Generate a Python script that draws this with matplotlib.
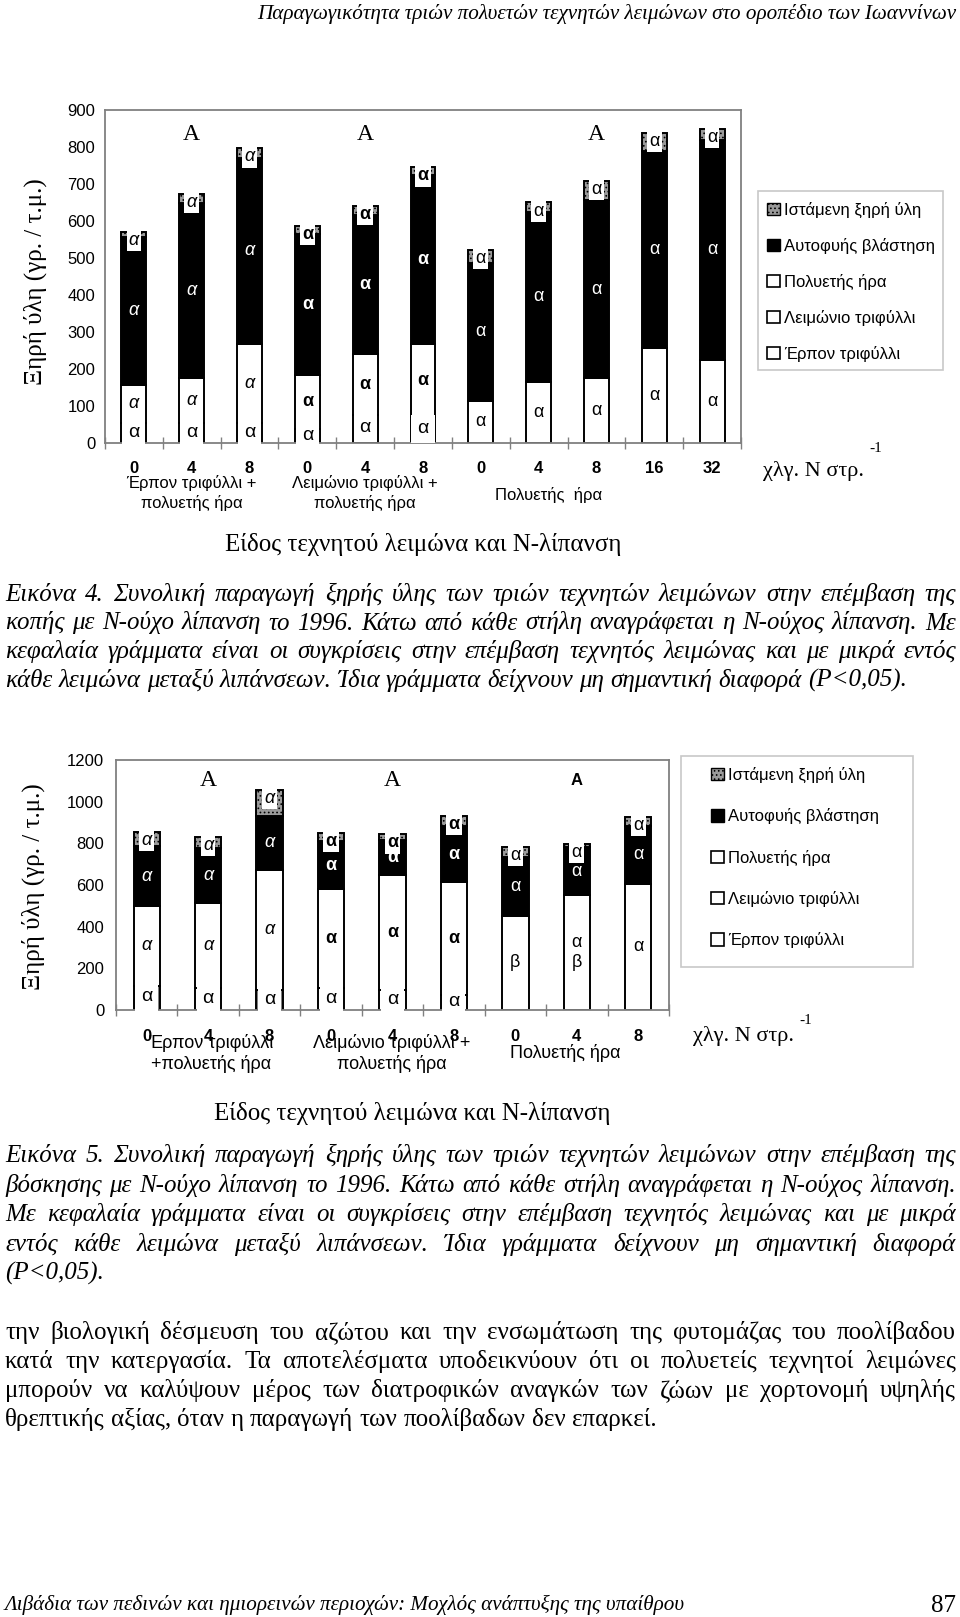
import numpy as np
import matplotlib.pyplot as plt
import matplotlib.transforms as mtransforms
from matplotlib.patches import Patch, Rectangle

plt.rcParams['font.family'] = ['Liberation Sans', 'DejaVu Sans']
plt.rcParams['hatch.linewidth'] = 0.7
SERIF = ['Liberation Serif', 'DejaVu Serif']

W, H = 960, 1617

# ---------------- data: figure 4 (cutting) ----------------
rates_4 = ['0', '4', '8', '0', '4', '8', '0', '4', '8', '16', '32']
group_of_4 = [0, 0, 0, 1, 1, 1, 2, 2, 2, 2, 2]
clover_4 = [54, 54, 54, 38, 75, 69, 0, 0, 0, 0, 0]
ryegrass_4 = [103, 123, 214, 146, 166, 199, 114, 166, 175, 258, 225]
weeds_4 = [400, 471, 502, 381, 375, 456, 372, 459, 482, 530, 594]
standing_4 = [13, 26, 26, 21, 24, 21, 35, 25, 52, 51, 29]
rye_letters_4 = ['α'] * 11
groups_4 = ['Έρπον τριφύλλι +\nπολυετής ήρα', 'Λειμώνιο τριφύλλι +\nπολυετής ήρα', 'Πολυετής  ήρα']
caps_4 = ['Α', 'Α', 'Α']

# ---------------- data: figure 5 (grazing) ----------------
rates_5 = ['0', '4', '8', '0', '4', '8', '0', '4', '8']
group_of_5 = [0, 0, 0, 1, 1, 1, 2, 2, 2]
clover_5 = [117, 104, 96, 104, 96, 72, 0, 0, 0]
ryegrass_5 = [382, 410, 578, 477, 554, 541, 453, 552, 605]
weeds_5 = [288, 265, 256, 229, 168, 270, 283, 229, 280]
standing_5 = [66, 50, 126, 41, 25, 50, 46, 17, 41]
rye_letters_5 = ['α', 'α', 'α', 'α', 'α', 'α', 'β', 'α\nβ', 'α']
groups_5 = ['Έρπον τριφύλλι\n+πολυετής ήρα', 'Λειμώνιο τριφύλλι +\nπολυετής ήρα', 'Πολυετής ήρα']
caps_5 = ['Α', 'Α', 'Α']

legend_labels = ['Ιστάμενη ξηρή ύλη', 'Αυτοφυής βλάστηση', 'Πολυετής ήρα',
                 'Λειμώνιο τριφύλλι', 'Έρπον τριφύλλι']

caption_4 = [
    'Εικόνα 4. Συνολική παραγωγή ξηρής ύλης των τριών τεχνητών λειμώνων στην επέμβαση της',
    'κοπής με Ν-ούχο λίπανση το 1996. Κάτω από κάθε στήλη αναγράφεται η Ν-ούχος λίπανση. Με',
    'κεφαλαία γράμματα είναι οι συγκρίσεις στην επέμβαση τεχνητός λειμώνας και με μικρά εντός',
    'κάθε λειμώνα μεταξύ λιπάνσεων. Ίδια γράμματα δείχνουν μη σημαντική διαφορά (P<0,05).',
]
caption_5 = [
    'Εικόνα 5. Συνολική παραγωγή ξηρής ύλης των τριών τεχνητών λειμώνων στην επέμβαση της',
    'βόσκησης με Ν-ούχο λίπανση το 1996. Κάτω από κάθε στήλη αναγράφεται η Ν-ούχος λίπανση.',
    'Με κεφαλαία γράμματα είναι οι συγκρίσεις στην επέμβαση τεχνητός λειμώνας και με μικρά',
    'εντός κάθε λειμώνα μεταξύ λιπάνσεων. Ίδια γράμματα δείχνουν μη σημαντική διαφορά',
    '(P<0,05).',
]
body = [
    'την βιολογική δέσμευση του αζώτου και την ενσωμάτωση της φυτομάζας του ποολίβαδου',
    'κατά την κατεργασία. Τα αποτελέσματα υποδεικνύουν ότι οι πολυετείς τεχνητοί λειμώνες',
    'μπορούν να καλύψουν μέρος των διατροφικών αναγκών των ζώων με χορτονομή υψηλής',
    'θρεπτικής αξίας, όταν η παραγωγή των ποολίβαδων δεν επαρκεί.',
]
header = 'Παραγωγικότητα τριών πολυετών τεχνητών λειμώνων στο οροπέδιο των Ιωαννίνων'
footer = 'Λιβάδια των πεδινών και ημιορεινών περιοχών: Μοχλός ανάπτυξης της υπαίθρου'
page_no = '87'

GRAY = '#9a9a9a'
# letter style per meadow group (the scan mixes italic / bold / plain)
LETTER_STYLE = [dict(style='italic'), dict(fontweight='bold'), dict()]


def px(x, y):
    return x / W, 1 - y / H


def stacked(ax, rates, group_of, clover, rye, weeds, standing, rye_letters,
            clover_fill, ymax, ystep):
    x = np.arange(len(rates))
    c, r, wd, s = (np.array(v, dtype=float) for v in (clover, rye, weeds, standing))
    kw = dict(width=0.43, edgecolor='black', linewidth=1.4)
    has_c = c > 0
    ax.bar(x[has_c], c[has_c], color=np.array(clover_fill)[has_c], **kw)
    ax.bar(x, r, bottom=c, color='white', **kw)
    ax.bar(x, wd, bottom=c + r, color='black', **kw)
    ax.bar(x, s, bottom=c + r + wd, color=GRAY, hatch='....', **kw)

    box = dict(boxstyle='square,pad=0.12', fc='white', ec='none')
    for i in x:
        st = LETTER_STYLE[group_of[i]]
        if c[i] > 0:
            ax.text(i, c[i] * 0.55, 'α', ha='center', va='center', fontsize=14,
                    bbox=dict(boxstyle='square,pad=0.3', fc='white', ec='none'), zorder=5)
        ax.text(i, c[i] + r[i] / 2, rye_letters[i], ha='center', va='center',
                fontsize=13, linespacing=1.3, zorder=5, **st)
        ax.text(i, c[i] + r[i] + wd[i] / 2, 'α', ha='center', va='center',
                fontsize=13, color='white', zorder=5, **st)
        ax.text(i, c[i] + r[i] + wd[i] + s[i], 'α', ha='center', va='top',
                fontsize=13, bbox=box, zorder=5, **st)

    ax.set_xlim(-0.5, len(rates) - 0.5)
    ax.set_ylim(0, ymax)
    ax.set_yticks(np.arange(0, ymax + 1, ystep))
    ax.set_xticks(x)
    ax.set_xticklabels(rates, fontweight='bold', fontsize=12)
    ax.set_xticks(np.arange(-0.5, len(rates)), minor=True)
    ax.tick_params(axis='x', which='major', length=0, pad=13)
    ax.tick_params(axis='x', which='minor', direction='inout', length=8,
                   color='#808080', width=1)
    ax.tick_params(axis='y', length=0, labelsize=12)
    for sp in ax.spines.values():
        sp.set_color('#808080')
        sp.set_linewidth(1.3)


def legend_box(fig, handles, x0, y0, x1, y1, marker_x, first_y, spacing):
    fig.add_artist(Rectangle(px(x0, y1), (x1 - x0) / W, (y1 - y0) / H,
                             transform=fig.transFigure, fc='white',
                             ec='#c8c8c8', lw=1.2))
    fig.legend(handles, legend_labels, loc='upper left',
               bbox_to_anchor=px(marker_x - 1, first_y - 10),
               bbox_transform=fig.transFigure, frameon=False, fontsize=12,
               handlelength=0.75, handleheight=0.75, handletextpad=0.3,
               labelspacing=spacing, borderpad=0, borderaxespad=0)


def unit_label(fig, x, y, raise_px):
    # "χλγ. Ν στρ." with a raised -1 right after it
    rend = fig.canvas.get_renderer()
    t = fig.text(*px(x, y), 'χλγ. Ν στρ.', fontsize=16, family=SERIF, va='baseline')
    right = t.get_window_extent(rend).x1
    fig.text((right + 5) / W, 1 - (y - raise_px) / H, '-1', fontsize=11,
             family=SERIF, va='baseline')


def put_lines(fig, lines, y0, dy, size, style='normal', left=5, right=956):
    rend = fig.canvas.get_renderer()
    space = size * 0.25 * 100 / 72
    for k, line in enumerate(lines):
        words = line.split(' ')
        texts = [fig.text(0, 0, w, fontsize=size, family=SERIF, style=style,
                          va='baseline') for w in words]
        widths = [t.get_window_extent(rend).width for t in texts]
        if k == len(lines) - 1 or len(words) < 2:
            gap = space
        else:
            gap = (right - left - sum(widths)) / (len(words) - 1)
        xx = left
        for t, w in zip(texts, widths):
            t.set_position(px(xx, y0 + k * dy))
            xx += w + gap


fig = plt.figure(figsize=(W / 100, H / 100), dpi=100)

handles = [Patch(fc=GRAY, ec='black', hatch='....', lw=1),
           Patch(fc='black', ec='black', lw=1),
           Patch(fc='white', ec='black', lw=1.2),
           Patch(fc='white', ec='black', lw=1.2),
           Patch(fc='white', ec='black', lw=1.2)]

# ---------------- figure 4 ----------------
ax1 = fig.add_axes([105 / W, 1 - 443 / H, 636 / W, 333 / H])
stacked(ax1, rates_4, group_of_4, clover_4, ryegrass_4, weeds_4, standing_4,
        rye_letters_4, ['white'] * 11, 900, 100)
ax1.tick_params(axis='y', pad=7)
for cap, gx in zip(caps_4, [1, 4, 8]):
    ax1.text(gx, 835, cap, ha='center', va='center', fontsize=17, family=SERIF)
tr1 = mtransforms.blended_transform_factory(ax1.transData, ax1.transAxes)
ax1.text(1, -0.095, groups_4[0], transform=tr1, ha='center', va='top', fontsize=12, linespacing=1.3)
ax1.text(4, -0.095, groups_4[1], transform=tr1, ha='center', va='top', fontsize=12, linespacing=1.3)
ax1.text(7.18, -0.157, groups_4[2], transform=tr1, ha='center', va='center', fontsize=12)
fig.text(*px(35, 282), 'Ξηρή ύλη (γρ. / τ.μ.)', rotation=90, ha='center', va='center',
         fontsize=18, family=SERIF)
fig.text(*px(423, 544), 'Είδος τεχνητού λειμώνα και Ν-λίπανση', ha='center', va='center',
         fontsize=18, family=SERIF)
unit_label(fig, 763, 476, 24)
legend_box(fig, handles, 758, 191, 943, 370, 768, 212, 1.2)

# ---------------- figure 5 ----------------
ax2 = fig.add_axes([116 / W, 1 - 1010 / H, 553 / W, 250 / H])
stacked(ax2, rates_5, group_of_5, clover_5, ryegrass_5, weeds_5, standing_5,
        rye_letters_5, ['#7f7f7f', 'white', '#7f7f7f', 'white', 'white', 'white',
                        'white', 'white', 'white'], 1200, 200)
ax2.tick_params(axis='y', pad=8.5)
ax2.tick_params(axis='x', which='major', pad=14)
ax2.text(1, 1104, caps_5[0], ha='center', va='center', fontsize=17, family=SERIF)
ax2.text(4, 1104, caps_5[1], ha='center', va='center', fontsize=17, family=SERIF)
ax2.text(7, 1104, caps_5[2], ha='center', va='center', fontsize=12, fontweight='bold')
tr2 = mtransforms.blended_transform_factory(ax2.transData, ax2.transAxes)
ax2.text(1.05, -0.095, groups_5[0], transform=tr2, ha='center', va='top', fontsize=13, linespacing=1.25)
ax2.text(3.99, -0.095, groups_5[1], transform=tr2, ha='center', va='top', fontsize=13, linespacing=1.25)
ax2.text(6.81, -0.172, groups_5[2], transform=tr2, ha='center', va='center', fontsize=13)
fig.text(*px(33, 887), 'Ξηρή ύλη (γρ. / τ.μ.)', rotation=90, ha='center', va='center',
         fontsize=18, family=SERIF)
fig.text(*px(412, 1113), 'Είδος τεχνητού λειμώνα και Ν-λίπανση', ha='center', va='center',
         fontsize=18, family=SERIF)
unit_label(fig, 693, 1041, 17)
legend_box(fig, handles, 681, 756, 913, 967, 712, 777, 1.52)

# ---------------- page text ----------------
fig.text(*px(956, 19), header, ha='right', va='baseline', fontsize=15.2,
         family=SERIF, style='italic')
put_lines(fig, caption_4, 601, 28.5, 18, style='italic')
put_lines(fig, caption_5, 1162, 29.5, 18, style='italic')
put_lines(fig, body, 1339, 29, 18)
fig.text(*px(5, 1610), footer, va='baseline', fontsize=15.2, family=SERIF, style='italic')
fig.text(*px(956, 1612), page_no, ha='right', va='baseline', fontsize=18, family=SERIF)

fig.savefig('out.png', dpi=100)
